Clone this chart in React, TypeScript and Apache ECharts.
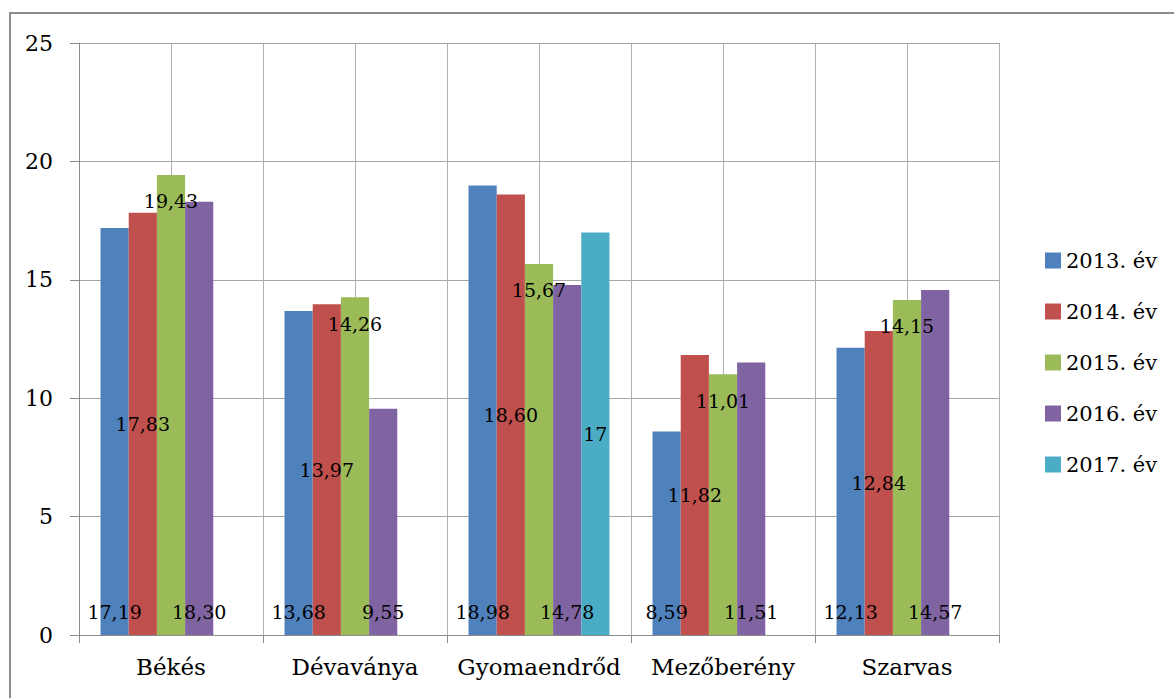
import React, { useEffect, useRef } from "react";
import * as echarts from "echarts";

const categories = ["Békés", "Dévaványa", "Gyomaendrőd", "Mezőberény", "Szarvas"];
const seriesNames = ["2013. év", "2014. év", "2015. év", "2016. év", "2017. év"];
const v2013 = [17.19, 13.68, 18.98, 8.59, 12.13];
const v2014 = [17.83, 13.97, 18.6, 11.82, 12.84];
const v2015 = [19.43, 14.26, 15.67, 11.01, 14.15];
const v2016 = [18.3, 9.55, 14.78, 11.51, 14.57];
const v2017 = [null, null, 17, null, null];
const colors = ["#4F81BD", "#C0504D", "#9BBB59", "#8064A2", "#4BACC6"];
const yTicks = { min: 0, max: 25, interval: 5 };

const FONT = "DejaVu Serif";

export default function App() {
  const ref = useRef<HTMLDivElement>(null);
  useEffect(() => {
    if (!ref.current) return;
    const chart = echarts.init(ref.current, null, { renderer: "svg" });
    const fmt2 = (p: any) => Number(p.value).toFixed(2).replace(".", ",");
    const fmtPlain = (p: any) => String(p.value).replace(".", ",");
    const lbl = (position: string, distance: number, formatter: any) => ({
      show: true,
      position,
      distance,
      formatter,
      color: "#000",
      fontFamily: FONT,
      fontSize: 19,
    });
    const data = [v2013, v2014, v2015, v2016, v2017];
    const labels = [
      lbl("insideBottom", 14, fmt2),
      lbl("inside", 0, fmt2),
      lbl("insideTop", 17, fmt2),
      lbl("insideBottom", 14, fmt2),
      lbl("inside", 0, fmtPlain),
    ];
    const splitCats: string[] = [];
    for (let i = 0; i < categories.length * 2; i++) splitCats.push(String(i));
    chart.setOption({
      animation: false,
      color: colors,
      textStyle: { fontFamily: FONT },
      graphic: [
        {
          type: "rect",
          shape: { x: 10, y: 13, width: 1200, height: 720 },
          style: { fill: "none", stroke: "#8c8c8c", lineWidth: 2 },
          silent: true,
        },
      ],
      grid: { left: 79, right: 175, top: 43, bottom: 63, containLabel: false },
      legend: {
        orient: "vertical",
        left: 1040,
        top: 243,
        itemWidth: 16,
        itemHeight: 16,
        itemGap: 26,
        icon: "rect",
        data: seriesNames,
        textStyle: { fontFamily: FONT, fontSize: 21, color: "#000", lineHeight: 25 },
      },
      xAxis: [
        {
          type: "category",
          data: categories,
          axisLine: { show: true, lineStyle: { color: "#8c8c8c", width: 1 } },
          axisTick: { show: true, length: 8, lineStyle: { color: "#8c8c8c" } },
          axisLabel: { color: "#000", fontFamily: FONT, fontSize: 23, margin: 20, interval: 0 },
          splitLine: { show: false },
        },
        {
          type: "category",
          data: splitCats,
          position: "bottom",
          axisLine: { show: false },
          axisTick: { show: false },
          axisLabel: { show: false },
          splitLine: { show: true, interval: 0, lineStyle: { color: "#b0b0b0", width: 1 } },
        },
      ],
      yAxis: {
        type: "value",
        min: yTicks.min,
        max: yTicks.max,
        interval: yTicks.interval,
        axisLine: { show: true, lineStyle: { color: "#8c8c8c" } },
        axisTick: { show: true, length: 9, lineStyle: { color: "#8c8c8c" } },
        axisLabel: { color: "#000", fontFamily: FONT, fontSize: 22, margin: 26 },
        splitLine: { show: true, lineStyle: { color: "#a6a6a6", width: 1 } },
      },
      series: data.map((d, i) => ({
        name: seriesNames[i],
        type: "bar",
        xAxisIndex: 0,
        data: d,
        barGap: "0%",
        barCategoryGap: "23.4%",
        label: labels[i],
        z: 3,
      })),
    });
    return () => chart.dispose();
  }, []);
  return (
    <div
      ref={ref}
      style={{ position: "fixed", left: 0, top: 0, width: 1174, height: 698, background: "#fff" }}
    />
  );
}
